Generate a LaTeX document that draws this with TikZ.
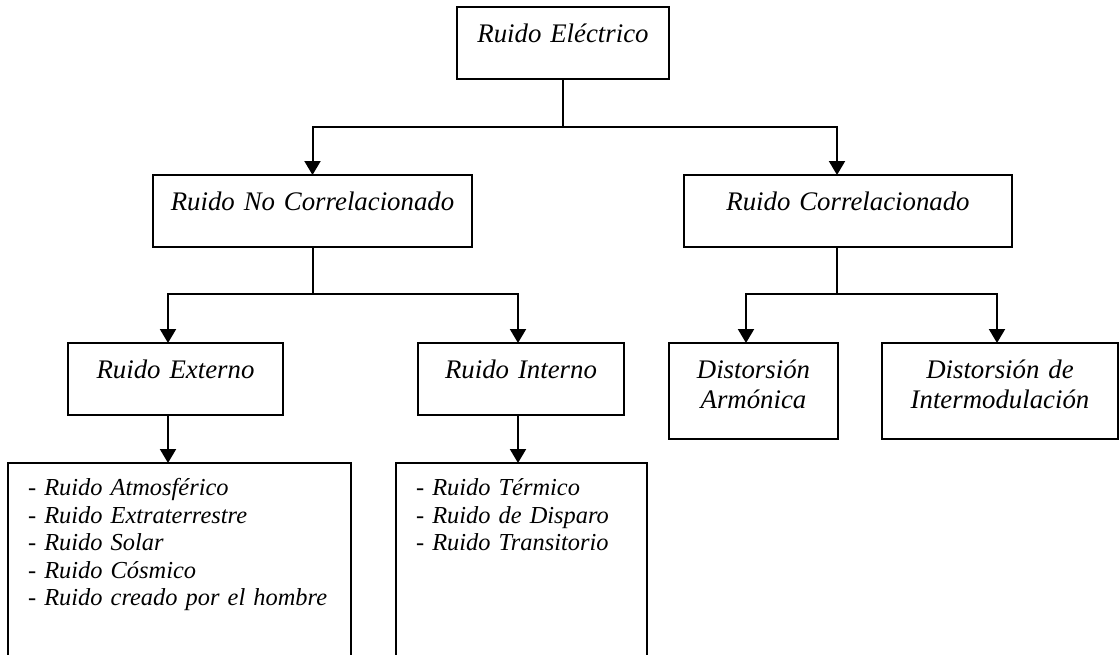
\documentclass[tikz,border=0pt]{standalone}
\usepackage{fontspec}
\setmainfont{Liberation Serif}
\usepackage{tikz}
\usetikzlibrary{arrows.meta}

\tikzset{
	caja/.style={draw, line width=1pt, inner sep=0pt, outer sep=0pt, anchor=north west,
		align=center, text height=17.8pt, text depth=18.2pt,
		font=\fontsize{13.4}{15}\selectfont\itshape},
	caja2/.style={caja, text depth=30.35pt},
	lista/.style={caja, align=left, inner xsep=10pt, text height=16.3pt, text depth=100pt,
		font=\fontsize{12.2}{13.75}\selectfont\itshape},
	flecha/.style={-{Triangle[width=8pt,length=7pt]}, line width=1pt},
	linea/.style={line width=1pt}
}

\begin{document}
\begin{tikzpicture}[x=0.5pt,y=-0.5pt]
		\useasboundingbox (0,0) rectangle (1119,654);
		\clip (0,0) rectangle (1119,654);
		
		% cajas
		\node[caja, text width=106pt] (elec) at (457,7) {Ruido Eléctrico};
		\node[caja, text width=159.5pt] (nocorr) at (153,175) {Ruido No Correlacionado};
		\node[caja, text width=164pt] (corr) at (684,175) {Ruido Correlacionado};
		\node[caja, text width=107.5pt] (ext) at (68,343) {Ruido Externo};
		\node[caja, text width=103pt] (int) at (418,343) {Ruido Interno};
		\node[caja2, text width=84.5pt] (arm) at (669,343) {Distorsión\\Armónica};
		\node[caja2, text width=118pt] (inter) at (882,343) {Distorsión de\\Intermodulación};
		\node[lista, text width=151.5pt] (listext) at (8,463) {- Ruido Atmosférico\\- Ruido Extraterrestre\\- Ruido Solar\\- Ruido Cósmico\\- Ruido creado por el hombre};
		\node[lista, text width=105.5pt] (listint) at (396,463) {- Ruido Térmico\\- Ruido de Disparo\\- Ruido Transitorio};
		
		% ramas
		\coordinate (busA) at (563,127);
		\draw[linea] (elec.south) -- (busA);
		\draw[flecha] (busA) -| (nocorr.north);
		\draw[flecha] (busA) -| ([xshift=-5.5pt]corr.north);
		
		\coordinate (busB) at (312.5,294);
		\draw[linea] (nocorr.south) -- (busB);
		\draw[flecha] (busB) -| ([xshift=-3.75pt]ext.north);
		\draw[flecha] (busB) -| ([xshift=-1.5pt]int.north);
		
		\coordinate (busC) at (837,294);
		\draw[linea] ([xshift=-5.5pt]corr.south) -- (busC);
		\draw[flecha] (busC) -| ([xshift=-3.75pt]arm.north);
		\draw[flecha] (busC) -| ([xshift=-1.5pt]inter.north);
		
		\draw[flecha] ([xshift=-3.75pt]ext.south) -- ([xshift=-3.75pt]ext.south |- listext.north);
		\draw[flecha] ([xshift=-1.5pt]int.south) -- ([xshift=-1.5pt]int.south |- listint.north);
\end{tikzpicture}
\end{document}
